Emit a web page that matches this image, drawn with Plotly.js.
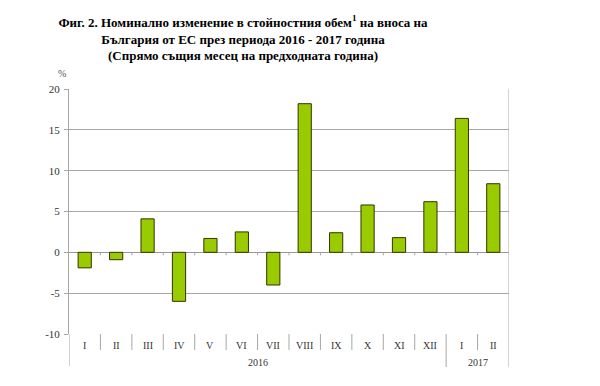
<!DOCTYPE html>
<html><head><meta charset="utf-8">
<script src="https://cdn.plot.ly/plotly-3.0.1.min.js"></script>
<style>html,body{margin:0;padding:0;background:#fff}#c{width:600px;height:386px}</style>
</head><body><div id="c"></div>
<script>
var months = ["I","II","III","IV","V","VI","VII","VIII","IX","X","XI","XII","I","II"];
var years = ["2016","2017"];
var yearSpans = [[0,11],[12,13]];
var values = [-1.9,-0.9,4.1,-6.0,1.7,2.5,-4.0,18.2,2.4,5.8,1.8,6.2,16.4,8.4];
var yTicks = [-10,-5,0,5,10,15,20];
var titleText = "<b>Фиг. 2. Номинално изменение в стойностния обем<sup>1</sup> на вноса на<br>България от ЕС през периода 2016 - 2017 година<br>(Спрямо същия месец на предходната година)</b>";

var idx = months.map(function(_,i){return i;});
var serif = "Liberation Serif, Times New Roman, serif";
var gray = "#a6a6a6";

var shapes = [];
var annotations = [];
for (var k=0;k<months.length-1;k++){
  shapes.push({type:"line",xref:"x",yref:"y",ysizemode:"pixel",yanchor:0,x0:k+0.5,x1:k+0.5,y0:0,y1:-3,line:{color:gray,width:1}});
}
for (var k=1;k<months.length;k++){
  var isYear = yearSpans.some(function(s){return s[0]===k;});
  shapes.push({type:"line",xref:"x",yref:"paper",ysizemode:"pixel",yanchor:0,x0:k-0.5,x1:k-0.5,y0:0,y1:isYear?-33:-16,line:{color:gray,width:1}});
}
shapes.push({type:"line",xref:"x",yref:"paper",ysizemode:"pixel",yanchor:0,x0:-0.5,x1:-0.5,y0:0,y1:-32,line:{color:gray,width:1}});
shapes.push({type:"line",xref:"x",yref:"paper",ysizemode:"pixel",yanchor:1,x0:months.length-0.5,x1:months.length-0.5,y0:0,y1:-278,line:{color:gray,width:1}});

months.forEach(function(m,i){
  annotations.push({xref:"x",yref:"paper",x:i,y:0,yshift:-11,text:m,showarrow:false,font:{family:serif,size:10,color:"#333"},yanchor:"middle"});
});
years.forEach(function(yr,j){
  var s=yearSpans[j];
  annotations.push({xref:"x",yref:"paper",x:(s[0]+s[1])/2,y:0,yshift:-28,text:yr,showarrow:false,font:{family:serif,size:10,color:"#333"},yanchor:"middle"});
});
annotations.push({xref:"paper",yref:"paper",x:0,xshift:-1,y:1,yshift:16,text:"%",showarrow:false,font:{family:serif,size:10,color:"#555"},xanchor:"right",yanchor:"middle"});

var trace = {type:"bar",x:idx,y:values,width:0.42,marker:{color:"#99cc00",line:{color:"#333300",width:1}},hoverinfo:"none"};

var layout = {
  width:600,height:386,
  margin:{l:69,r:91,t:89,b:52},
  paper_bgcolor:"#fff",plot_bgcolor:"#fff",
  showlegend:false,
  title:{text:titleText,xref:"container",yref:"container",x:243/600,xanchor:"center",y:0.931,yanchor:"top",font:{family:serif,size:13,color:"#000"}},
  xaxis:{range:[-0.5,months.length-0.5],showticklabels:false,showgrid:false,zeroline:false,ticks:"",fixedrange:true},
  yaxis:{range:[-10,20],tickvals:yTicks,ticktext:yTicks.map(String),showgrid:true,gridcolor:gray,gridwidth:1,zeroline:true,zerolinecolor:"#999",zerolinewidth:1,
    showline:true,linecolor:gray,linewidth:1,ticks:"outside",ticklen:4,tickcolor:gray,tickfont:{family:serif,size:11,color:"#333"},ticklabelstandoff:2},
  shapes:shapes,
  annotations:annotations
};
Plotly.newPlot("c",[trace],layout,{displayModeBar:false,staticPlot:true});
</script></body></html>
